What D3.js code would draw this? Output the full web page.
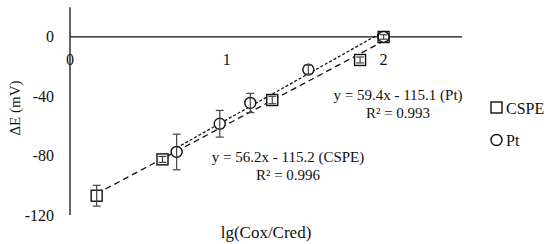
<!DOCTYPE html>
<html><head><meta charset="utf-8">
<script src="https://cdn.jsdelivr.net/npm/d3@7/dist/d3.min.js"></script>
<style>body{margin:0;background:#fff}svg{display:block}text{font-family:"Liberation Serif","DejaVu Serif",serif;fill:#111}</style>
</head><body><svg id="c" width="550" height="244"></svg>
<script>
const cspeX = [0.17, 0.59, 1.29, 1.85, 2.0];
const cspeY = [-107, -82.5, -42.5, -15.5, 0];
const cspeErr = [7, 2, 2.5, 2, 1.5];
const ptX = [0.68, 0.955, 1.15, 1.52, 2.0];
const ptY = [-77.5, -58.5, -44.5, -22, 0];
const ptErr = [12, 9, 6.5, 3, 1.5];
const fits = [
  {name:"CSPE", slope:56.2, icpt:-115.2, r2:"0.996"},
  {name:"Pt", slope:59.4, icpt:-115.1, r2:"0.993"}
];
const xTicks = [0, 1, 2];
const yTicks = [0, -40, -80, -120];

const svg = d3.select("#c");
const x = d3.scaleLinear().domain([0, 2.5]).range([70, 462]);
const y = d3.scaleLinear().domain([-120, 20]).range([215, 7.3]);

// axes lines
svg.append("line").attr("x1", x(0)).attr("x2", x(2.5)).attr("y1", y(0)).attr("y2", y(0)).attr("stroke", "#111").attr("stroke-width", 1.3);
svg.append("line").attr("x1", x(0)).attr("x2", x(0)).attr("y1", y(20)).attr("y2", y(-120)).attr("stroke", "#111").attr("stroke-width", 1.3);

svg.selectAll(".xt").data(xTicks).join("text").attr("x", d => x(d)).attr("y", y(0) + 28)
  .attr("text-anchor", "middle").attr("font-size", 16).text(d => d);
svg.selectAll(".yt").data(yTicks).join("text").attr("x", 54).attr("y", d => y(d) + 5.5)
  .attr("text-anchor", "end").attr("font-size", 16).text(d => d);

svg.append("text").attr("transform", "translate(20,108) rotate(-90)").attr("text-anchor", "middle")
  .attr("font-size", 15).text("ΔE (mV)");
svg.append("text").attr("x", 266).attr("y", 238).attr("text-anchor", "middle").attr("font-size", 17).text("lg(Cox/Cred)");

// trend lines
const series = [
  {xs: cspeX, ys: cspeY, es: cspeErr, fit: fits[0], dash: "6,4", shape: "square"},
  {xs: ptX, ys: ptY, es: ptErr, fit: fits[1], dash: "3,2", shape: "circle"}
];
series.forEach(s => {
  const x0 = d3.min(s.xs), x1 = d3.max(s.xs);
  svg.append("line").attr("x1", x(x0)).attr("y1", y(s.fit.slope * x0 + s.fit.icpt))
    .attr("x2", x(x1)).attr("y2", y(s.fit.slope * x1 + s.fit.icpt))
    .attr("stroke", "#111").attr("stroke-width", 1.3).attr("stroke-dasharray", s.dash);
});

series.forEach(s => {
  const g = svg.append("g");
  s.xs.forEach((xv, i) => {
    const px = x(xv), py = y(s.ys[i]), e = s.es[i];
    if (s.shape === "square") {
      g.append("rect").attr("x", px - 5.5).attr("y", py - 5.5).attr("width", 11).attr("height", 11)
        .attr("fill", "#fff").attr("stroke", "#111").attr("stroke-width", 1.4);
    } else {
      g.append("circle").attr("cx", px).attr("cy", py).attr("r", 5.5)
        .attr("fill", "#fff").attr("stroke", "#111").attr("stroke-width", 1.4);
    }
    const eg = g.append("g").attr("stroke", "#444").attr("stroke-width", 1.2);
    eg.append("line").attr("x1", px).attr("x2", px).attr("y1", y(s.ys[i] + e)).attr("y2", y(s.ys[i] - e));
    eg.append("line").attr("x1", px - 4).attr("x2", px + 4).attr("y1", y(s.ys[i] + e)).attr("y2", y(s.ys[i] + e));
    eg.append("line").attr("x1", px - 4).attr("x2", px + 4).attr("y1", y(s.ys[i] - e)).attr("y2", y(s.ys[i] - e));
  });
});

// equations
const eqPos = [{cx: 288, y: 162}, {cx: 398, y: 100}];
fits.forEach((f, i) => {
  svg.append("text").attr("x", eqPos[i].cx).attr("y", eqPos[i].y).attr("text-anchor", "middle").attr("font-size", 15)
    .text(`y = ${f.slope}x - ${Math.abs(f.icpt)} (${f.name})`);
  svg.append("text").attr("x", eqPos[i].cx).attr("y", eqPos[i].y + 18).attr("text-anchor", "middle").attr("font-size", 15)
    .text(`R² = ${f.r2}`);
});

// legend
const lg = svg.append("g");
lg.append("rect").attr("x", 491).attr("y", 102).attr("width", 11).attr("height", 11).attr("fill", "#fff").attr("stroke", "#111").attr("stroke-width", 1.4);
lg.append("text").attr("x", 506).attr("y", 114).attr("font-size", 16).text(fits[0].name);
lg.append("circle").attr("cx", 496.5).attr("cy", 140).attr("r", 5.5).attr("fill", "#fff").attr("stroke", "#111").attr("stroke-width", 1.4);
lg.append("text").attr("x", 506).attr("y", 146).attr("font-size", 16).text(fits[1].name);
</script></body></html>
